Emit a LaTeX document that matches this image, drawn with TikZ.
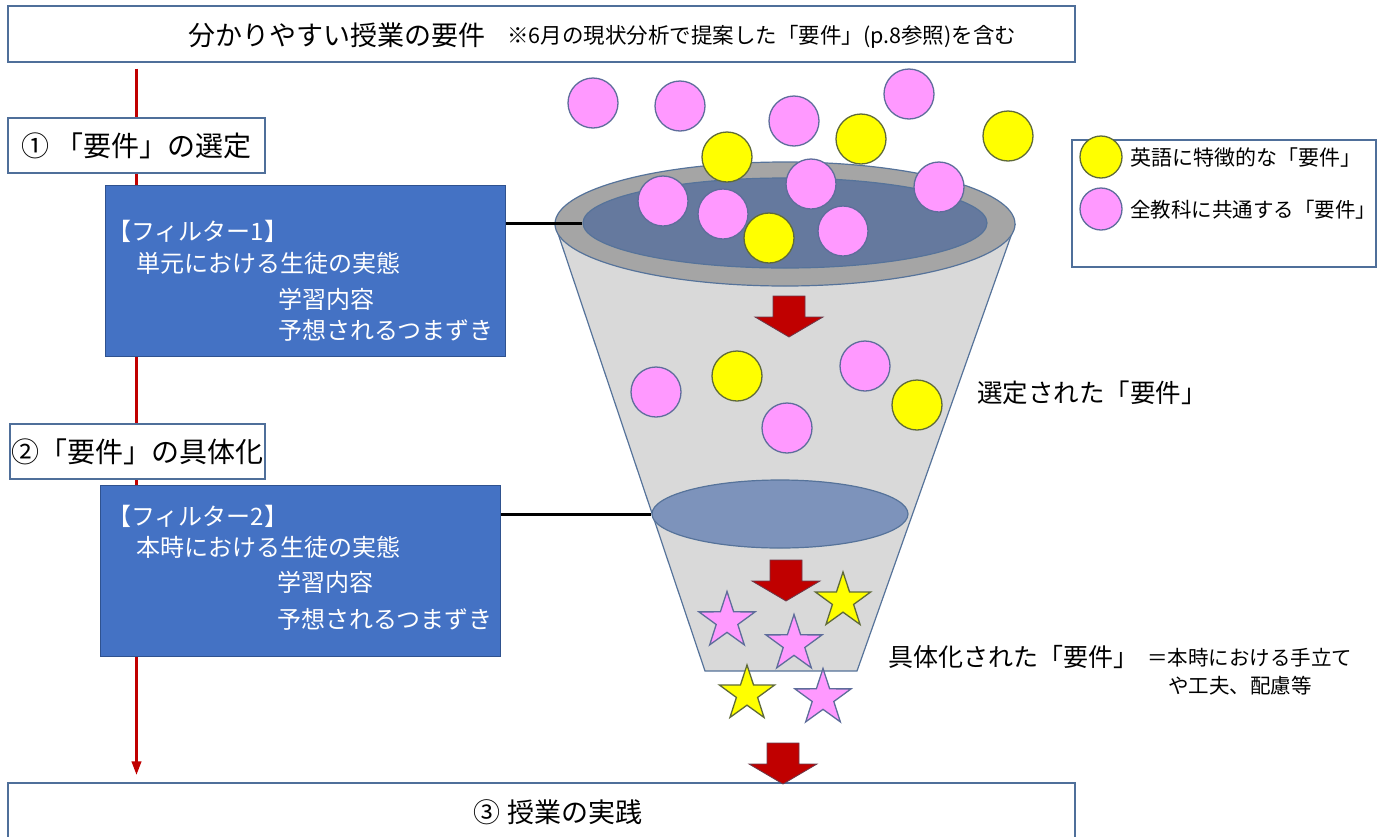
\documentclass[tikz,border=0pt]{standalone}
\usepackage{fontspec}
\setmainfont{Noto Sans CJK JP}
\usetikzlibrary{shapes.geometric,arrows.meta,backgrounds}

\definecolor{boxedge}{HTML}{4F6F9A}
\definecolor{filterblue}{HTML}{4472C4}
\definecolor{filteredge}{HTML}{2F528F}
\definecolor{timered}{HTML}{C00000}
\definecolor{arrowred}{HTML}{C00000}
\definecolor{arrowedge}{HTML}{6B3A4A}
\definecolor{conefill}{HTML}{D9D9D9}
\definecolor{rimgrey}{HTML}{A5A5A5}
\definecolor{funnelline}{HTML}{56739A}
\definecolor{innerblue}{HTML}{65799E}
\definecolor{midblue}{HTML}{7D93BB}
\definecolor{pinkfill}{HTML}{FF99FF}
\definecolor{pinkedge}{HTML}{5E6D9B}
\definecolor{yellowfill}{HTML}{FFFF00}
\definecolor{yellowedge}{HTML}{5F6A38}

\tikzset{
  framebox/.style={rectangle, draw=boxedge, fill=white, line width=1.2pt, inner sep=0pt},
  filterbox/.style={rectangle, draw=filteredge, fill=filterblue, line width=1pt, inner sep=0pt,
                    minimum width=400pt, minimum height=171pt},
  filtertext/.style={anchor=west, inner sep=0pt, text=white, font=\fontsize{24}{28}\selectfont},
  label/.style={anchor=west, inner sep=0pt, text=black},
  link/.style={draw=black, line width=3pt},
  timeline/.style={draw=timered, line width=3.4pt, -{Triangle[length=14pt,width=9pt]}},
  ballP/.style={circle, minimum size=50pt, inner sep=0pt, fill=pinkfill, draw=pinkedge, line width=1.3pt},
  ballY/.style={circle, minimum size=50pt, inner sep=0pt, fill=yellowfill, draw=yellowedge, line width=1.3pt},
  starP/.style={star, star points=5, star point ratio=2.6, minimum size=59pt, inner sep=0pt,
                fill=pinkfill, draw=pinkedge, line width=1.3pt},
  starY/.style={star, star points=5, star point ratio=2.6, minimum size=58pt, inner sep=0pt,
                fill=yellowfill, draw=yellowedge, line width=1.3pt},
  disc/.style={ellipse, inner sep=0pt, draw=funnelline, line width=1.2pt},
  pics/downarrow/.style={code={
    \filldraw[fill=arrowred, draw=arrowedge, line width=0.8pt]
      (-16,0) -- (16,0) -- (16,21) -- (34,21) -- (0,41) -- (-34,21) -- (-16,21) -- cycle;}}
}

\begin{document}
\begin{tikzpicture}[x=1pt,y=-1pt]
\useasboundingbox (0,0) rectangle (1384,836);
\clip (0,0) rectangle (1384,836);

% ---- frame boxes ----
\node[framebox, minimum width=1067pt, minimum height=56pt] (topbox) at (541.5,34) {};
\node[label, font=\fontsize{27}{31}\selectfont] (title) at (188,35) {分かりやすい授業の要件};
\node[label, font=\fontsize{21.5}{25}\selectfont] (titlenote) at (507,37) {※6月の現状分析で提案した「要件」(p.8参照)を含む};

\node[framebox, minimum width=257pt, minimum height=55pt, font=\fontsize{28}{32}\selectfont] (sel) at (136.5,145.5) {① 「要件」の選定};
\node[framebox, minimum width=255pt, minimum height=55pt, font=\fontsize{28}{32}\selectfont] (spec) at (137.5,451.5) {②「要件」の具体化};

\node[framebox, minimum width=1067pt, minimum height=57pt] (botbox) at (541.5,811.5) {};
\node[inner sep=0pt, font=\fontsize{27}{31}\selectfont] (practice) at (558,812) {③ 授業の実践};

% ---- filter boxes ----
\node[filterbox] (f1) at (305,270.5) {};
\node[filtertext] (f1a) at (107,231) {【フィルター1】};
\node[filtertext] (f1b) at (136,263) {単元における生徒の実態};
\node[filtertext] (f1c) at (278,299) {学習内容};
\node[filtertext] (f1d) at (278,330) {予想されるつまずき};

\node[filterbox] (f2) at (300,570.5) {};
\node[filtertext] (f2a) at (107,516) {【フィルター2】};
\node[filtertext] (f2b) at (136,547) {本時における生徒の実態};
\node[filtertext] (f2c) at (277,582) {学習内容};
\node[filtertext] (f2d) at (277,619) {予想されるつまずき};

% ---- timeline behind the boxes ----
\begin{scope}[on background layer]
  \draw[timeline, shorten <=6pt, shorten >=7pt] (sel |- topbox.south) -- (sel |- botbox.north);
\end{scope}

% ---- funnel ----
\coordinate (coneBL) at (705,671);
\coordinate (coneBR) at (857,671);
\node[ellipse, minimum width=460pt, minimum height=124pt, inner sep=0pt] (rimshape) at (785,224) {};
\fill[conefill] (rimshape.west) -- (coneBL) -- (coneBR) -- (rimshape.east) -- cycle;
\draw[funnelline, line width=1.2pt] (rimshape.west) -- (coneBL) -- (coneBR) -- (rimshape.east);
\node[disc, fill=rimgrey, minimum width=460pt, minimum height=124pt] (rim) at (785,224) {};
\node[disc, fill=innerblue, minimum width=404pt, minimum height=90pt] (inner) at (785,223) {};
\node[disc, fill=midblue, minimum width=256pt, minimum height=68pt] (mid) at (780,514) {};

% ---- links from the filters ----
\draw[link] (inner.west) -- (inner.west -| f1.east);
\draw[link] (mid.west) -- (mid.west -| f2.east);

% ---- requirements entering the funnel ----
\node[ballP] (p1) at (593,103) {};
\node[ballP] (p2) at (680,106) {};
\node[ballP] (p3) at (794,121) {};
\node[ballP] (p4) at (909,94) {};
\node[ballY] (y1) at (727,157) {};
\node[ballY] (y2) at (861,139) {};
\node[ballY] (y3) at (1008,136) {};
\node[ballP] (p5) at (663,201) {};
\node[ballP] (p6) at (723,214) {};
\node[ballP] (p7) at (811,184) {};
\node[ballP] (p8) at (843,231) {};
\node[ballP] (p9) at (939,187) {};
\node[ballY] (y4) at (769,238) {};

% ---- selected requirements ----
\pic at (789,296) {downarrow};
\node[ballP] (s1) at (656,392) {};
\node[ballY] (s2) at (737,376) {};
\node[ballP] (s3) at (787,428) {};
\node[ballP] (s4) at (865,366) {};
\node[ballY] (s5) at (917,405) {};
\node[label, font=\fontsize{25.5}{29}\selectfont] (seltext) at (977,393) {選定された「要件」};

% ---- concrete requirements ----
\pic at (786,560) {downarrow};
\node[starP] (k1) at (727,621) {};
\node[starY] (k2) at (843,601) {};
\node[starP] (k3) at (794,644) {};
\node[starY] (k4) at (747,694) {};
\node[starP] (k5) at (823,698) {};
\node[label, font=\fontsize{25}{29}\selectfont] (spectext) at (888,657) {具体化された「要件」};
\node[label, font=\fontsize{20.5}{24}\selectfont] (specnote1) at (1147,658) {＝本時における手立て};
\node[label, font=\fontsize{20.5}{24}\selectfont] (specnote2) at (1168,686) {や工夫、配慮等};

\pic at (783,743) {downarrow};

% ---- legend ----
\node[framebox, minimum width=304pt, minimum height=127pt] (legend) at (1224,203.5) {};
\node[ballY, minimum size=42pt] (legY) at (1101,157) {};
\node[ballP, minimum size=42pt] (legP) at (1101,209) {};
\node[label, font=\fontsize{21}{25}\selectfont] (legYtext) at (1130,158) {英語に特徴的な「要件」};
\node[label, font=\fontsize{20.5}{25}\selectfont] (legPtext) at (1130,210) {全教科に共通する「要件」};
\end{tikzpicture}
\end{document}
